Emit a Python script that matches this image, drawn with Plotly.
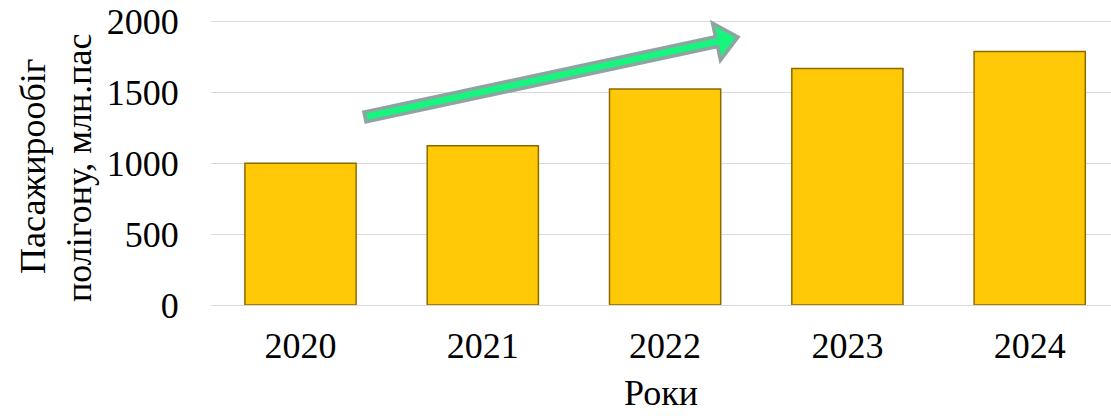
import math
import plotly.graph_objects as go

years = ["2020", "2021", "2022", "2023", "2024"]
passenger_turnover = [1000, 1125, 1525, 1670, 1790]
y_ticks = [0, 500, 1000, 1500, 2000]
y_title_line1 = "Пасажирообіг"
y_title_line2 = "полігону, млн.пас"
x_title = "Роки"

FONT = "Liberation Serif, Times New Roman, serif"
W, H = 1111, 416
L, R, T, B = 211, 0, 20, 111
pw, ph = W - L - R, H - T - B


def px2paper(px, py):
    return ((px - L) / pw, (H - B - py) / ph)


fig = go.Figure()
fig.add_trace(go.Bar(
    x=years, y=passenger_turnover, width=0.61,
    marker=dict(color="#FFC907", line=dict(color="#8C6A00", width=1.5)),
    hoverinfo="x+y",
))

# trend arrow (decoration), defined in pixel space -> paper coords
tail = (365, 117)
tip = (738, 37)
dx, dy = tip[0] - tail[0], tip[1] - tail[1]
ln = math.hypot(dx, dy)
ux, uy = dx / ln, dy / ln
nx, ny = -uy, ux
hw, hh, hl = 5, 19, 22
hx, hy = tip[0] - hl * ux, tip[1] - hl * uy
pts = [
    (tail[0] + hw * nx, tail[1] + hw * ny),
    (hx + hw * nx, hy + hw * ny),
    (hx + hh * nx, hy + hh * ny),
    tip,
    (hx - hh * nx, hy - hh * ny),
    (hx - hw * nx, hy - hw * ny),
    (tail[0] - hw * nx, tail[1] - hw * ny),
]
pp = [px2paper(*p) for p in pts]
path = "M " + " L ".join(f"{x:.5f},{y:.5f}" for x, y in pp) + " Z"
fig.add_shape(type="path", xref="paper", yref="paper", path=path,
              fillcolor="#17F57F", line=dict(color="#8FA3A3", width=3.5), layer="above")

ax1, ay1 = px2paper(33, 166)
ax2, ay2 = px2paper(79, 168)
fig.add_annotation(text=y_title_line1, textangle=-90, xref="paper", yref="paper",
                   x=ax1, y=ay1, xanchor="center", yanchor="middle",
                   showarrow=False, font=dict(family=FONT, size=36, color="black"))
fig.add_annotation(text=y_title_line2, textangle=-90, xref="paper", yref="paper",
                   x=ax2, y=ay2, xanchor="center", yanchor="middle",
                   showarrow=False, font=dict(family=FONT, size=36, color="black"))

fig.update_layout(
    width=W, height=H,
    margin=dict(l=L, r=R, t=T, b=B, pad=0, autoexpand=False),
    paper_bgcolor="white", plot_bgcolor="white",
    showlegend=False,
    font=dict(family=FONT, size=36, color="black"),
)
fig.update_xaxes(type="category", range=[-0.491, 4.446], showgrid=False, showline=False,
                 ticks="outside", ticklen=9, tickcolor="rgba(0,0,0,0)",
                 ticklabeloverflow="allow", automargin=False,
                 tickfont=dict(family=FONT, size=36, color="black"),
                 title=dict(text=x_title, standoff=14, font=dict(family=FONT, size=36, color="black")))
fig.update_yaxes(range=[0, 2012], tickvals=y_ticks, showgrid=True, gridcolor="#D9D9D9",
                 gridwidth=1, zeroline=True, zerolinecolor="#D9D9D9", zerolinewidth=1,
                 showline=False, ticks="outside", ticklen=24, tickcolor="rgba(0,0,0,0)",
                 ticklabeloverflow="allow", automargin=False,
                 tickfont=dict(family=FONT, size=36, color="black"))

fig.write_html("out.html", config={"displayModeBar": False},
               post_script="document.body.style.margin='0';document.body.style.overflow='hidden';")
